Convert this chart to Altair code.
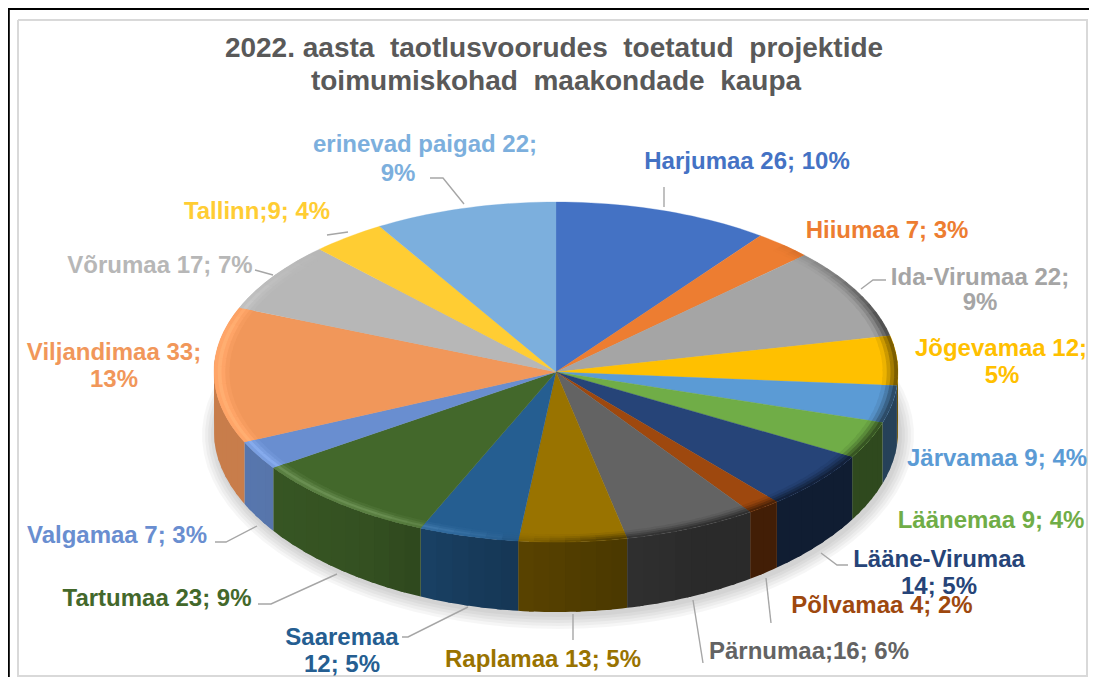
import math
import altair as alt

# ---------- chart values ----------
names = ["Harjumaa", "Hiiumaa", "Ida-Virumaa", "Jõgevamaa", "Järvamaa", "Läänemaa",
         "Lääne-Virumaa", "Põlvamaa", "Pärnumaa", "Raplamaa", "Saaremaa", "Tartumaa",
         "Valgamaa", "Viljandimaa", "Võrumaa", "Tallinn", "erinevad paigad"]
values = [26, 7, 22, 12, 9, 9, 14, 4, 16, 13, 12, 23, 7, 33, 17, 9, 22]
colors = ["#4472c4", "#ed7d31", "#a5a5a5", "#ffc000", "#5b9bd5", "#70ad47",
          "#264478", "#9e480e", "#636363", "#997300", "#255e91", "#43682b",
          "#698ed0", "#f1975a", "#b7b7b7", "#ffcd33", "#7cafdd"]
title_lines = ["2022. aasta\u00a0 taotlusvoorudes\u00a0 toetatud\u00a0 projektide",
               "toimumiskohad\u00a0 maakondade\u00a0 kaupa"]
# label text, centre x, centre y, index of slice colour (page pixels)
label_rows = [
    ("Harjumaa 26; 10%", 747, 161, 0), ("Hiiumaa 7; 3%", 887, 230, 1),
    ("Ida-Virumaa 22;", 980, 277, 2), ("9%", 980, 302, 2),
    ("Jõgevamaa 12;", 1001, 348, 3), ("5%", 1002, 375, 3),
    ("Järvamaa 9; 4%", 997, 458, 4), ("Läänemaa 9; 4%", 991, 520, 5),
    ("Lääne-Virumaa", 939, 559, 6), ("14; 5%", 939, 586, 6),
    ("Põlvamaa 4; 2%", 882, 605, 7), ("Pärnumaa;16; 6%", 809, 651, 8),
    ("Raplamaa 13; 5%", 543, 659, 9), ("Saaremaa", 342, 637, 10), ("12; 5%", 342, 664, 10),
    ("Tartumaa 23; 9%", 157, 598, 11), ("Valgamaa 7; 3%", 117, 535, 12),
    ("Viljandimaa 33;", 114, 352, 13), ("13%", 114, 379, 13),
    ("Võrumaa 17; 7%", 160, 265, 14), ("Tallinn;9; 4%", 257, 211, 15),
    ("erinevad paigad 22;", 425, 144, 16), ("9%", 398, 173, 16),
]
leaders = [
    [(664, 187), (664, 207)],
    [(861, 289), (873, 280), (886, 280)],
    [(821, 553), (837, 565), (848, 565)],
    [(766, 578), (771, 623)],
    [(693, 600), (703, 663)],
    [(573, 614), (573, 640)],
    [(468, 607), (408, 637), (402, 637)],
    [(337, 574), (271, 604), (258, 604)],
    [(257, 526), (226, 542), (215, 542)],
    [(273, 275), (255, 270)],
    [(327, 235), (348, 232)],
    [(464, 204), (443, 178), (430, 178)],
]

# ---------- page geometry ----------
W, H = 1081, 669
OFF = 8
CX, CY, RX, RY = 556 - OFF, 372 - OFF, 342, 170


def rgb(h):
    return [int(h[i:i + 2], 16) for i in (1, 3, 5)]


def mix(a, b, t):
    t = max(0.0, min(1.0, t))
    return [a[i] + (b[i] - a[i]) * t for i in range(3)]


def hexc(c):
    return "#%02x%02x%02x" % tuple(int(round(max(0, min(255, v)))) for v in c)


def pt(deg, r=1.0):
    a = math.radians(deg)
    return [CX + RX * r * math.sin(a), CY - RY * r * math.cos(a)]


def depth(deg):
    c = max(0.0, -math.cos(math.radians(deg)))
    return 60 + 10 * c * c


def ramp(x, a, b):
    return max(0.0, min(1.0, (x - a) / (b - a)))


def wall_factor(deg):
    xs = [(90, .42), (155, .42), (175, .52), (195, .63), (215, .78), (240, .83), (270, .83)]
    for (a, fa), (b, fb) in zip(xs, xs[1:]):
        if a <= deg <= b:
            return fa + (fb - fa) * (deg - a) / (b - a)
    return .42 if deg < 90 else .83


def poly(ring, fill):
    ring = [list(p) for p in ring]
    ring.append(ring[0])
    return {"type": "Feature", "geometry": {"type": "Polygon", "coordinates": [ring]},
            "properties": {"fill": fill}}


def arc_steps(a, b, step=3.0):
    n = max(1, int(math.ceil((b - a) / step)))
    return [a + (b - a) * i / n for i in range(n + 1)]


# ---------- build slices from the values ----------
total = sum(values)
spans = []
acc = 0
for v in values:
    spans.append((acc / total * 360, (acc + v) / total * 360))
    acc += v

walls, tops, rims = [], [], []
light_s = [.2, .55, 1.0, .6]
dark_s = [.12, .35, .62, .88]
bands = [.955, .967, .978, .989, 1.0]
for (a, b), col in zip(spans, colors):
    base = rgb(col)
    lum = (base[0] * .3 + base[1] * .59 + base[2] * .11) / 255
    add = 45 * (1 - lum) + 8
    steps = arc_steps(a, b)
    tops.append(poly([[CX, CY]] + [pt(t) for t in arc_steps(a, b, 1.5)], col))
    for t0, t1 in zip(steps, steps[1:]):
        mid = (t0 + t1) / 2
        wf = wall_factor(mid)
        wc = [v * wf for v in base]
        te = min(t1 + 0.8, b)
        if 85 < mid < 275:
            sub = arc_steps(t0, te, 1.0)
            ring = [pt(t) for t in sub] + [[pt(t)[0], pt(t)[1] + depth(t)] for t in reversed(sub)]
            walls.append(poly(ring, hexc(wc)))
        L = ramp(mid, 185, 212) * (1 - ramp(mid, 285, 315))
        D = ramp(mid, 40, 72) * (1 - ramp(mid, 172, 192))
        if L + D < 0.02:
            continue
        for k in range(4):
            c = [v + add * L * light_s[k] for v in base]
            c = mix(c, [v * .42 for v in base] if mid < 100 else wc, D * dark_s[k])
            r0, r1 = bands[k], min(bands[k + 1] + .004, 1.0)
            sub = arc_steps(t0, te, 1.0)
            ring = [pt(t, r0) for t in sub] + [pt(t, r1) for t in reversed(sub)]
            rims.append(poly(ring, hexc(c)))

shadows = []
for e in (14, 11, 8, 5, 2):
    ring = []
    for t in arc_steps(0, 360, 4):
        p = pt(t)
        a = math.radians(t)
        ring.append([p[0] + e * math.sin(a) + 2, p[1] + depth(t) + 3 - e * math.cos(a)])
    shadows.append(poly(ring[:-1], "#000000"))

page = poly([[0, 0], [W, 0], [W, H], [0, H]], "#ffffff")


def line(points, stroke):
    return {"type": "Feature",
            "geometry": {"type": "LineString", "coordinates": [[x - OFF, y - OFF] for x, y in points]},
            "properties": {"fill": stroke}}


frame = [line([(18, 20), (1087, 20), (1087, 676), (18, 676), (18, 20)], "#d9d9d9")]
border = [line([(8.8, 677), (8.8, 9), (1089, 9)], "#000000")]
leader_feats = [line(l, "#a6a6a6") for l in leaders]

fill_enc = alt.Color("properties.fill:N", scale=None, legend=None)
stroke_enc = alt.Stroke("properties.fill:N", scale=None, legend=None)


def shapes(feats, **kw):
    return alt.Chart(alt.Data(values=feats)).mark_geoshape(**kw)


layers = [
    shapes([page], stroke=None).encode(fill=fill_enc),
    shapes(frame, filled=False, strokeWidth=2).encode(stroke=stroke_enc),
    shapes(border, filled=False, strokeWidth=2).encode(stroke=stroke_enc),
    shapes(shadows, stroke=None, fillOpacity=0.035).encode(fill=fill_enc),
    shapes(walls, stroke=None).encode(fill=fill_enc),
    shapes(tops, strokeWidth=0.3).encode(fill=fill_enc, stroke=stroke_enc),
    shapes(rims, stroke=None).encode(fill=fill_enc),
    shapes(leader_feats, filled=False, strokeWidth=1.4).encode(stroke=stroke_enc),
]

labels = [{"t": t, "x": x - OFF, "y": y - OFF + 1, "c": colors[i]} for t, x, y, i in label_rows]
layers.append(
    alt.Chart(alt.Data(values=labels)).mark_text(
        font="Liberation Sans", fontWeight="bold", fontSize=24, align="center", baseline="middle"
    ).encode(longitude=alt.Longitude("x:Q"), latitude=alt.Latitude("y:Q"),
             text=alt.Text("t:N"), color=alt.Color("c:N", scale=None, legend=None))
)
titles = [{"t": title_lines[0], "x": 554 - OFF, "y": 49 - OFF},
          {"t": title_lines[1], "x": 556 - OFF, "y": 82 - OFF}]
layers.append(
    alt.Chart(alt.Data(values=titles)).mark_text(
        font="Liberation Sans", fontWeight="bold", fontSize=28, align="center", baseline="middle",
        color="#595959"
    ).encode(longitude=alt.Longitude("x:Q"), latitude=alt.Latitude("y:Q"), text=alt.Text("t:N"))
)

chart = alt.layer(*layers).project(
    type="identity", fit={"type": "FeatureCollection", "features": [page]}
).properties(
    width=W, height=H, padding=0, autosize=alt.AutoSizeParams(type="none")
).configure_view(stroke=None).configure(background="white")

chart.save("out.html", embed_options={"renderer": "svg", "actions": False})
